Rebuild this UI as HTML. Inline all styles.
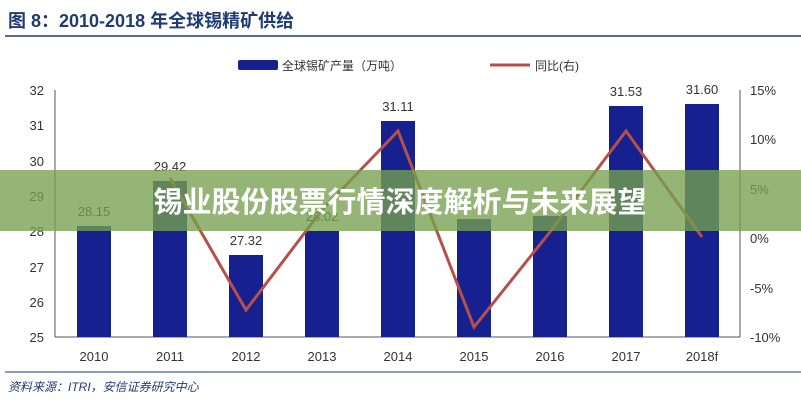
<!DOCTYPE html><html><head><meta charset="utf-8"><style>
body{margin:0;width:801px;height:400px;background:#fff;overflow:hidden;font-family:"Liberation Sans","Noto Sans CJK SC",sans-serif}
</style></head><body>
<svg width="801" height="400" xmlns="http://www.w3.org/2000/svg" style="position:absolute;left:0;top:0">
<text x="8" y="27" font-size="18" font-weight="bold" fill="#1f3b73" font-family="Liberation Sans,Noto Sans CJK SC,sans-serif">图 8：2010-2018 年全球锡精矿供给</text>
<line x1="5" y1="36" x2="801" y2="36" stroke="#1f3b73" stroke-width="1.5"/>
<rect x="238" y="60" width="40" height="10" fill="#16218f" rx="2"/>
<text x="282" y="70" font-size="12" fill="#333" font-family="Liberation Sans,Noto Sans CJK SC,sans-serif">全球锡矿产量（万吨）</text>
<line x1="490" y1="65" x2="530" y2="65" stroke="#b5504a" stroke-width="3"/>
<text x="535" y="70" font-size="12" fill="#333" font-family="Liberation Sans,Noto Sans CJK SC,sans-serif">同比(右)</text>
<g stroke="#555" stroke-width="1">
<line x1="55" y1="90" x2="55" y2="337"/><line x1="740" y1="90" x2="740" y2="337"/><line x1="55" y1="337" x2="740" y2="337"/>
</g>
<g font-size="13" fill="#333" text-anchor="end">
<text x="44" y="95">32</text><text x="44" y="130">31</text><text x="44" y="166">30</text><text x="44" y="201">29</text><text x="44" y="236">28</text><text x="44" y="272">27</text><text x="44" y="307">26</text><text x="44" y="342">25</text>
</g>
<g font-size="13" fill="#333">
<text x="750" y="95">15%</text><text x="750" y="144">10%</text><text x="750" y="194">5%</text><text x="750" y="243">0%</text><text x="750" y="293">-5%</text><text x="750" y="342">-10%</text>
</g>
<g fill="#16218f">
<rect x="77" y="226" width="34" height="111"/>
<rect x="153" y="181" width="34" height="156"/>
<rect x="229" y="255" width="34" height="82"/>
<rect x="305" y="231" width="34" height="106"/>
<rect x="381" y="121" width="34" height="216"/>
<rect x="457" y="219" width="34" height="118"/>
<rect x="533" y="216" width="34" height="121"/>
<rect x="609" y="106" width="34" height="231"/>
<rect x="685" y="104" width="34" height="233"/>
</g>
<g font-size="13" fill="#333" text-anchor="middle">
<text x="94" y="216">28.15</text><text x="170" y="171">29.42</text><text x="246" y="245">27.32</text><text x="322" y="221">28.02</text><text x="398" y="111">31.11</text><text x="626" y="96">31.53</text><text x="702" y="94">31.60</text>
</g>
<polyline fill="none" stroke="#b5504a" stroke-width="3" points="170,178 246,310 322,210 398,131 474,327 550,232 626,131 702,237"/>
<g font-size="13" fill="#333" text-anchor="middle">
<text x="94" y="361">2010</text><text x="170" y="361">2011</text><text x="246" y="361">2012</text><text x="322" y="361">2013</text><text x="398" y="361">2014</text><text x="474" y="361">2015</text><text x="550" y="361">2016</text><text x="626" y="361">2017</text><text x="702" y="361">2018f</text>
</g>
<line x1="5" y1="372" x2="801" y2="372" stroke="#1f3b73" stroke-width="1"/>
<text x="8" y="391" font-size="12" font-style="italic" fill="#1f3b73" font-family="Liberation Sans,Noto Sans CJK SC,sans-serif">资料来源：ITRI，安信证券研究中心</text>
<rect x="0" y="170" width="801" height="61" fill="rgba(118,160,78,0.78)"/>
<text x="400" y="212" font-size="29" font-weight="bold" fill="#fff" text-anchor="middle" font-family="Liberation Sans,Noto Sans CJK SC,sans-serif">锡业股份股票行情深度解析与未来展望</text>
</svg>
</body></html>
